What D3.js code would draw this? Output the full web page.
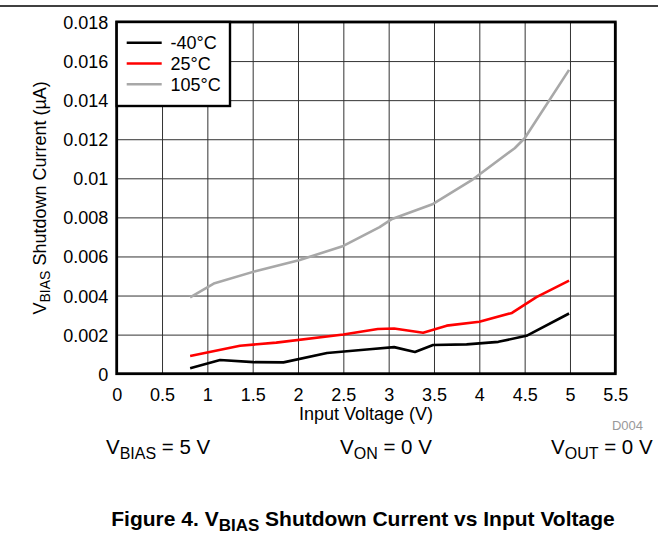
<!DOCTYPE html>
<html>
<head>
<meta charset="utf-8">
<script src="https://cdn.jsdelivr.net/npm/d3@7/dist/d3.min.js"></script>
<style>
  html, body { margin: 0; padding: 0; background: #fff; }
  svg { display: block; font-family: "Liberation Sans", Arial, Helvetica, sans-serif; }
</style>
</head>
<body>
<svg id="chart" width="658" height="538"></svg>
<script>
// ---- Data ----
const seriesNames = ["-40\u00B0C", "25\u00B0C", "105\u00B0C"];
const seriesColors = ["#000000", "#ff0000", "#a8a8a8"];

const xM40 = [0.81, 1.14, 1.51, 1.84, 2.32, 2.79, 3.06, 3.29, 3.49, 3.86, 4.21, 4.52, 4.99];
const yM40 = [0.00028, 0.00070, 0.00059, 0.00058, 0.00106, 0.00125, 0.00136, 0.00111, 0.00147, 0.00150, 0.00163, 0.00194, 0.00308];

const x25 = [0.81, 1.36, 1.76, 2.50, 2.88, 3.06, 3.38, 3.64, 4.00, 4.36, 4.63, 4.99];
const y25 = [0.00091, 0.00143, 0.00159, 0.00201, 0.00229, 0.00231, 0.00210, 0.00246, 0.00266, 0.00311, 0.00392, 0.00476];

const x105 = [0.81, 1.08, 1.54, 2.02, 2.50, 2.90, 3.03, 3.49, 3.93, 4.39, 4.50, 4.99];
const y105 = [0.00391, 0.00463, 0.00526, 0.00582, 0.00654, 0.00750, 0.00790, 0.00869, 0.00995, 0.01154, 0.01205, 0.01555];

const xTicks = [0, 0.5, 1, 1.5, 2, 2.5, 3, 3.5, 4, 4.5, 5, 5.5];
const xTickLabels = ["0", "0.5", "1", "1.5", "2", "2.5", "3", "3.5", "4", "4.5", "5", "5.5"];
const yTicks = [0, 0.002, 0.004, 0.006, 0.008, 0.01, 0.012, 0.014, 0.016, 0.018];
const yTickLabels = ["0", "0.002", "0.004", "0.006", "0.008", "0.01", "0.012", "0.014", "0.016", "0.018"];

// ---- Layout ----
const svg = d3.select("#chart");
const L = 116.7, R = 615.3, T = 22, B = 373.7;

const x = d3.scaleLinear().domain([0, 5.5]).range([L, R]);
const y = d3.scaleLinear().domain([0, 0.018]).range([B, T]);

// top rule
svg.append("line").attr("x1", 0).attr("x2", 658).attr("y1", 6).attr("y2", 6)
  .attr("stroke", "#000").attr("stroke-width", 1.3);

// grid
const gx = svg.append("g").attr("transform", `translate(0,${B})`)
  .call(d3.axisBottom(x).tickValues(xTicks).tickSize(-(B - T)).tickFormat(""));
gx.select(".domain").remove();
gx.selectAll("line").attr("stroke", "#333").attr("stroke-width", 1);

const gy = svg.append("g").attr("transform", `translate(${L},0)`)
  .call(d3.axisLeft(y).tickValues(yTicks).tickSize(-(R - L)).tickFormat(""));
gy.select(".domain").remove();
gy.selectAll("line").attr("stroke", "#333").attr("stroke-width", 1);

// tick labels
const ax = svg.append("g").attr("transform", `translate(0,${B})`)
  .call(d3.axisBottom(x).tickValues(xTicks).tickSize(0).tickPadding(0)
    .tickFormat((d, i) => xTickLabels[i]));
ax.select(".domain").remove();
ax.selectAll("text").attr("font-size", 18).attr("fill", "#000")
  .attr("font-family", "Liberation Sans, Arial, sans-serif")
  .attr("dy", null).attr("y", 27.5);

const ay = svg.append("g").attr("transform", `translate(${L},0)`)
  .call(d3.axisLeft(y).tickValues(yTicks).tickSize(0).tickPadding(8.5)
    .tickFormat((d, i) => yTickLabels[i]));
ay.select(".domain").remove();
ay.selectAll("text").attr("font-size", 18).attr("fill", "#000")
  .attr("font-family", "Liberation Sans, Arial, sans-serif")
  .attr("dy", "0.36em");

// series lines
const line = d3.line().x(d => x(d[0])).y(d => y(d[1]));
const series = [
  d3.zip(x105, y105),
  d3.zip(x25, y25),
  d3.zip(xM40, yM40)
];
const order = [2, 1, 0];
series.forEach((pts, k) => {
  svg.append("path").datum(pts).attr("d", line)
    .attr("fill", "none").attr("stroke", seriesColors[order[k]])
    .attr("stroke-width", 2.6).attr("stroke-linejoin", "round");
});

// plot border
svg.append("rect").attr("x", L).attr("y", T).attr("width", R - L).attr("height", B - T)
  .attr("fill", "none").attr("stroke", "#000").attr("stroke-width", 2.8);

// legend
const lg = svg.append("g");
lg.append("rect").attr("x", L).attr("y", T).attr("width", 230 - L).attr("height", 106 - T)
  .attr("fill", "#fff").attr("stroke", "#000").attr("stroke-width", 2.4);
const legY = [42.7, 63.5, 84.3];
seriesNames.forEach((n, i) => {
  lg.append("line").attr("x1", 126.7).attr("x2", 161.7).attr("y1", legY[i]).attr("y2", legY[i])
    .attr("stroke", seriesColors[i]).attr("stroke-width", 2.6);
  lg.append("text").attr("x", 170.5).attr("y", legY[i]).attr("dy", "0.36em")
    .attr("font-size", 18).text(n);
});

// axis titles
const yt = svg.append("text").attr("transform", `translate(46,${(T + B) / 2}) rotate(-90)`)
  .attr("text-anchor", "middle").attr("font-size", 18);
yt.append("tspan").text("V");
yt.append("tspan").attr("font-size", 14).attr("dy", 4).text("BIAS");
yt.append("tspan").attr("dy", -4).text(" Shutdown Current (\u00B5A)");

svg.append("text").attr("x", (L + R) / 2).attr("y", 420).attr("text-anchor", "middle")
  .attr("font-size", 18).text("Input Voltage (V)");

svg.append("text").attr("x", 643).attr("y", 430).attr("text-anchor", "end")
  .attr("font-size", 13).attr("fill", "#999").text("D004");

// conditions
function cond(xp, sub, rest) {
  const t = svg.append("text").attr("x", xp).attr("y", 454.3).attr("font-size", 20.5);
  t.append("tspan").text("V");
  t.append("tspan").attr("font-size", 16).attr("dy", 5).text(sub);
  t.append("tspan").attr("dy", -5).text(rest);
}
cond(106, "BIAS", " = 5 V");
cond(340, "ON", " = 0 V");
cond(551, "OUT", " = 0 V");

// caption
const cap = svg.append("text").attr("x", 363).attr("y", 525.7).attr("text-anchor", "middle")
  .attr("font-size", 21).attr("font-weight", "bold");
cap.append("tspan").text("Figure 4. V");
cap.append("tspan").attr("font-size", 17).attr("dy", 5).text("BIAS");
cap.append("tspan").attr("dy", -5).text(" Shutdown Current vs Input Voltage");
</script>
</body>
</html>
